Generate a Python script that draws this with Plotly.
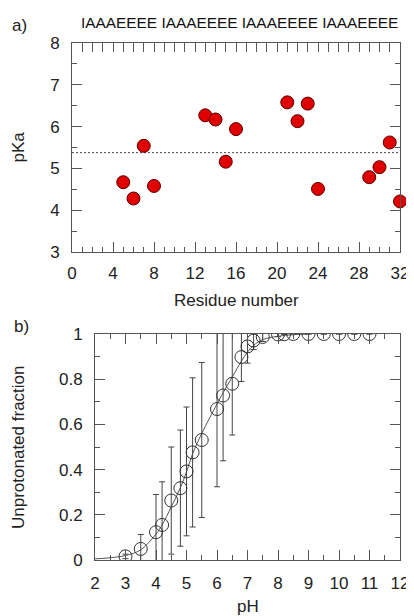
import numpy as np
import plotly.graph_objects as go

# ---------------- data ----------------
# panel a
residues = [5, 6, 7, 8, 13, 14, 15, 16, 21, 22, 23, 24, 29, 30, 31, 32]
pka = [4.67, 4.28, 5.54, 4.58, 6.27, 6.17, 5.16, 5.94, 6.58, 6.13, 6.55, 4.51, 4.79, 5.03, 5.62, 4.21]
sequence_label = "IAAAEEEE IAAAEEEE IAAAEEEE IAAAEEEE"
x_ticks_a = [0, 4, 8, 12, 16, 20, 24, 28, 32]
y_ticks_a = [3, 4, 5, 6, 7, 8]

# panel b
ph = [3.0, 3.5, 4.0, 4.2, 4.5, 4.8, 5.0, 5.2, 5.5, 6.0, 6.2, 6.5, 6.8, 7.0, 7.2, 7.5,
      8.0, 8.2, 8.5, 9.0, 9.5, 10.0, 10.5, 11.0]
fraction = [0.016, 0.049, 0.123, 0.155, 0.263, 0.318, 0.392, 0.476, 0.531, 0.668, 0.728, 0.780,
            0.898, 0.945, 0.971, 0.987, 0.998, 0.999, 1.0, 1.0, 1.0, 1.0, 1.0, 1.0]
fraction_err = [0.01, 0.064, 0.167, 0.191, 0.237, 0.257, 0.285, 0.33, 0.343, 0.344, 0.289, 0.227,
                0.108, 0.074, 0.04, 0.02, 0.01, 0.0, 0.0, 0.0, 0.0, 0.0, 0.0, 0.0]
fit_ph = [2.0, 2.5, 3.0, 3.5, 4.0, 4.2, 4.5, 4.8, 5.0, 5.2, 5.5, 6.0, 6.2, 6.5, 6.8, 7.0, 7.2,
          7.5, 8.0, 8.5, 9.0]
fit_fraction = [0.005, 0.01, 0.02, 0.045, 0.115, 0.155, 0.235, 0.32, 0.39, 0.47, 0.56, 0.69,
                0.74, 0.81, 0.88, 0.92, 0.95, 0.975, 0.99, 0.997, 1.0]
x_ticks_b = [2, 3, 4, 5, 6, 7, 8, 9, 10, 11, 12]
y_ticks_b = [0, 0.2, 0.4, 0.6, 0.8, 1]

# ---------------- style ----------------
W, H = 414, 616
OFF = 8  # page body margin in the browser
FONT = "Liberation Sans, Arial, sans-serif"
TXT = "#222222"
AX = "#555555"


def px(x):
    return (x - OFF) / W


def py(y):
    return 1 - (y - OFF) / H


fig = go.Figure()

# panel a
mean_pka = float(np.mean(pka))
fig.add_trace(go.Scatter(
    x=[x_ticks_a[0], x_ticks_a[-1]], y=[mean_pka, mean_pka], mode="lines",
    line=dict(color="#444444", width=1, dash="2px,2px"), xaxis="x", yaxis="y",
    hoverinfo="skip", showlegend=False))
fig.add_trace(go.Scatter(
    x=residues, y=pka, mode="markers",
    marker=dict(size=13, color="#e00000", line=dict(color="#5a0000", width=1)),
    xaxis="x", yaxis="y", showlegend=False, cliponaxis=False))
# invisible trace for the top sequence tick axis
fig.add_trace(go.Scatter(x=residues, y=pka, mode="markers", marker=dict(opacity=0),
                         xaxis="x3", yaxis="y", showlegend=False, hoverinfo="skip"))

# panel b
fig.add_trace(go.Scatter(
    x=fit_ph, y=fit_fraction, mode="lines", line=dict(color="#555555", width=1, shape="spline"),
    xaxis="x2", yaxis="y2", showlegend=False, hoverinfo="skip"))
fig.add_trace(go.Scatter(
    x=ph, y=fraction, mode="markers",
    marker=dict(size=13, color="rgba(0,0,0,0)", line=dict(color="#333333", width=1)),
    error_y=dict(type="data", array=fraction_err, color="#444444", thickness=1, width=3),
    xaxis="x2", yaxis="y2", showlegend=False, cliponaxis=True))

axis_common = dict(
    showgrid=False, zeroline=False, showline=True, linecolor=AX, linewidth=1,
    ticks="inside", tickcolor=AX, tickwidth=1, ticklen=10, automargin=False,
    tickfont=dict(family=FONT, size=17, color=TXT),
)

fig.update_layout(
    template="none",
    width=W, height=H,
    margin=dict(l=0, r=0, t=0, b=0, pad=0, autoexpand=False),
    paper_bgcolor="white", plot_bgcolor="white",
    showlegend=False,
    font=dict(family=FONT, color=TXT),
    xaxis=dict(**axis_common, domain=[px(72), px(400)], anchor="y", range=[0, 32],
               tickmode="array", tickvals=x_ticks_a, mirror=True, ticklabelstandoff=6,
               minor=dict(dtick=1, ticklen=5, ticks="inside", tickcolor=AX)),
    yaxis=dict(**axis_common, domain=[py(252), py(43)], anchor="x", range=[3, 8],
               tickmode="array", tickvals=y_ticks_a, mirror="ticks", ticklabelstandoff=8,
               minor=dict(dtick=0.5, ticklen=5, ticks="inside", tickcolor=AX)),
    xaxis3=dict(overlaying="x", side="top", anchor="y", range=[0, 32], showgrid=False,
                zeroline=False, showline=False, ticks="inside", ticklen=9, tickcolor=AX,
                tickwidth=1, tickmode="linear", tick0=1, dtick=1, showticklabels=False,
                automargin=False),
    xaxis2=dict(**axis_common, domain=[px(95), px(400)], anchor="y2", range=[2, 12],
                tickmode="array", tickvals=x_ticks_b, mirror="ticks", ticklabelstandoff=8,
                minor=dict(dtick=0.5, ticklen=5, ticks="inside", tickcolor=AX)),
    yaxis2=dict(**axis_common, domain=[py(560), py(334)], anchor="x2", range=[0, 1],
                tickmode="array", tickvals=y_ticks_b, mirror="ticks", ticklabelstandoff=8,
                minor=dict(dtick=0.1, ticklen=5, ticks="inside", tickcolor=AX)),
)

ann_font = dict(family=FONT, size=17, color=TXT)
annotations = [
    dict(text="a)", x=px(19), y=py(25)),
    dict(text="b)", x=px(21), y=py(326)),
    dict(text=sequence_label, x=px(239.5), y=py(22.5), font=dict(family=FONT, size=15.4, color="#111111")),
    dict(text="pKa", x=px(18), y=py(147.5), textangle=-90),
    dict(text="Residue number", x=px(236), y=py(300)),
    dict(text="Unprotonated fraction", x=px(18), y=py(447), textangle=-90),
    dict(text="pH", x=px(247.5), y=py(606)),
]
for a in annotations:
    a.setdefault("font", ann_font)
    fig.add_annotation(xref="paper", yref="paper", xanchor="center", yanchor="middle",
                       showarrow=False, **a)

fig.write_html("out.html")
